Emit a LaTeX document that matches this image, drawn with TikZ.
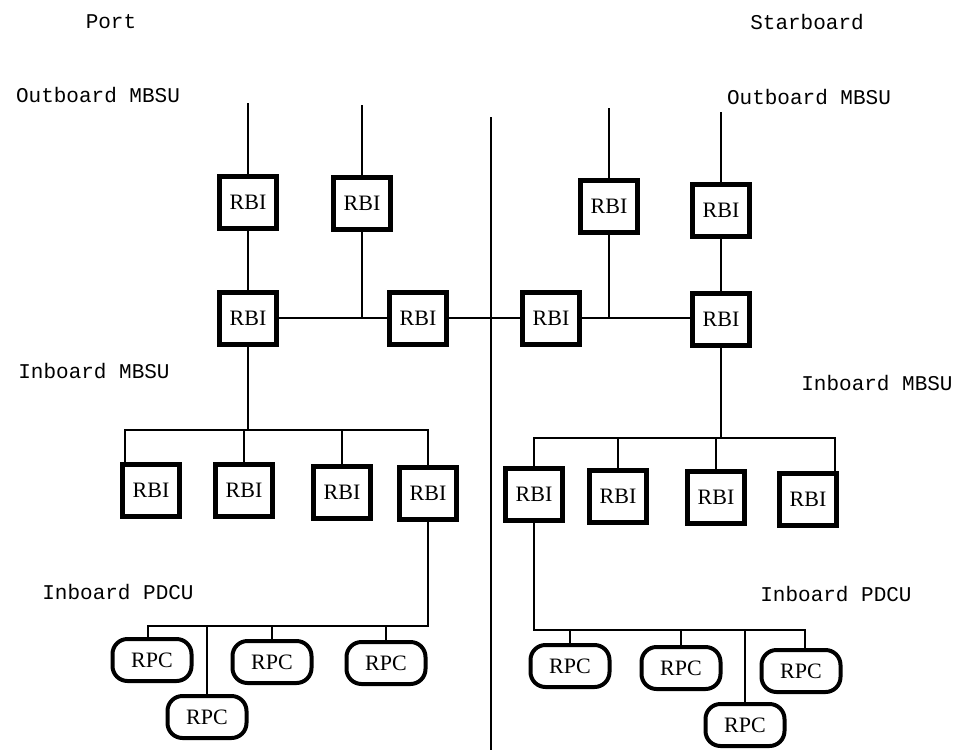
\documentclass[tikz,border=0pt]{standalone}
\usepackage{fontspec}
\setmainfont{Liberation Serif}
\newfontfamily\labfont{Liberation Mono}
\begin{document}
\begin{tikzpicture}[x=1pt,y=-1pt,
  rbi/.style={draw,line width=5pt,minimum width=57pt,minimum height=52pt,inner sep=0pt,font=\fontsize{22}{24}\selectfont},
  rpc/.style={draw,line width=4pt,rounded corners=15pt,minimum width=79pt,minimum height=42pt,inner sep=0pt,font=\fontsize{22}{24}\selectfont},
  lab/.style={font=\labfont\fontsize{21}{24}\selectfont,inner sep=0pt},
  con/.style={line width=2.5pt}]
\useasboundingbox (0,0) rectangle (958,750);
% labels
\node[lab] (port) at (111,22) {Port};
\node[lab] (star) at (807,22) {Starboard};
\node[lab] (obl) at (98,95) {Outboard MBSU};
\node[lab] (obr) at (809,97) {Outboard MBSU};
\node[lab] (ibl) at (94,371) {Inboard MBSU};
\node[lab] (ibr) at (877,383) {Inboard MBSU};
\node[lab] (pdl) at (118,592) {Inboard PDCU};
\node[lab] (pdr) at (836,594) {Inboard PDCU};
% RBIs
\node[rbi] (t1) at (248,202) {RBI};
\node[rbi] (t2) at (362,203) {RBI};
\node[rbi] (t3) at (609,206) {RBI};
\node[rbi] (t4) at (721,210) {RBI};
\node[rbi] (m1) at (248,318) {RBI};
\node[rbi] (m2) at (418,318) {RBI};
\node[rbi] (m3) at (551,318) {RBI};
\node[rbi] (m4) at (721,319) {RBI};
\node[rbi] (b1) at (151,490) {RBI};
\node[rbi] (b2) at (244,490) {RBI};
\node[rbi] (b3) at (342,492) {RBI};
\node[rbi] (b4) at (428,493) {RBI};
\node[rbi] (b5) at (534,494) {RBI};
\node[rbi] (b6) at (618,496) {RBI};
\node[rbi] (b7) at (716,497) {RBI};
\node[rbi] (b8) at (808,499) {RBI};
% RPCs
\node[rpc] (r1) at (152,660) {RPC};
\node[rpc] (r2) at (207,717) {RPC};
\node[rpc] (r3) at (272,662) {RPC};
\node[rpc] (r4) at (386,663) {RPC};
\node[rpc] (r5) at (570,666) {RPC};
\node[rpc] (r6) at (681,668) {RPC};
\node[rpc] (r7) at (745,725) {RPC};
\node[rpc] (r8) at (801,671) {RPC};
% free ends and bus corners
\coordinate (f1) at (248,103);
\coordinate (f2) at (362,105);
\coordinate (f3) at (609,108);
\coordinate (f4) at (721,112);
\coordinate (v1) at (491,117);
\coordinate (v2) at (491,750);
\coordinate (lb1) at (125,430);
\coordinate (lb2) at (428,430);
\coordinate (rb1) at (534,438);
\coordinate (rb2) at (835,438);
\coordinate (lp1) at (148,626);
\coordinate (rp1) at (534,630);
\coordinate (rp2) at (805,630);
% connectors
\draw[con] (f1) -- (t1);
\draw[con] (f2) -- (t2);
\draw[con] (f3) -- (t3);
\draw[con] (f4) -- (t4);
\draw[con] (t1) -- (m1);
\draw[con] (t4) -- (m4);
\draw[con] (t2) -- (t2 |- m1.east);
\draw[con] (t3) -- (t3 |- m3.east);
\draw[con] (m1.east) -- (m2.west);
\draw[con] (m2.east) -- (m3.west);
\draw[con] (m3.east) -- (m3.east -| m4.west);
\draw[con] (v1) -- (v2);
% left inboard bus
\draw[con] (m1) -- (m1 |- lb1);
\draw[con] (lb1 |- b1.north) -- (lb1) -- (lb2) -- (b4);
\draw[con] (b2) -- (b2 |- lb1);
\draw[con] (b3) -- (b3 |- lb1);
% right inboard bus
\draw[con] (m4) -- (m4 |- rb1);
\draw[con] (b5) -- (rb1) -- (rb2) -- (rb2 |- b8.north);
\draw[con] (b6) -- (b6 |- rb1);
\draw[con] (b7) -- (b7 |- rb1);
% left PDCU
\draw[con] (b4) -- (b4 |- lp1) -- (lp1) -- (lp1 |- r1.north);
\draw[con] (r2) -- (r2 |- lp1);
\draw[con] (r3) -- (r3 |- lp1);
\draw[con] (r4) -- (r4 |- lp1);
% right PDCU
\draw[con] (b5) -- (rp1) -- (rp2) -- (rp2 |- r8.north);
\draw[con] (r5) -- (r5 |- rp1);
\draw[con] (r6) -- (r6 |- rp1);
\draw[con] (r7) -- (r7 |- rp1);
\end{tikzpicture}
\end{document}
